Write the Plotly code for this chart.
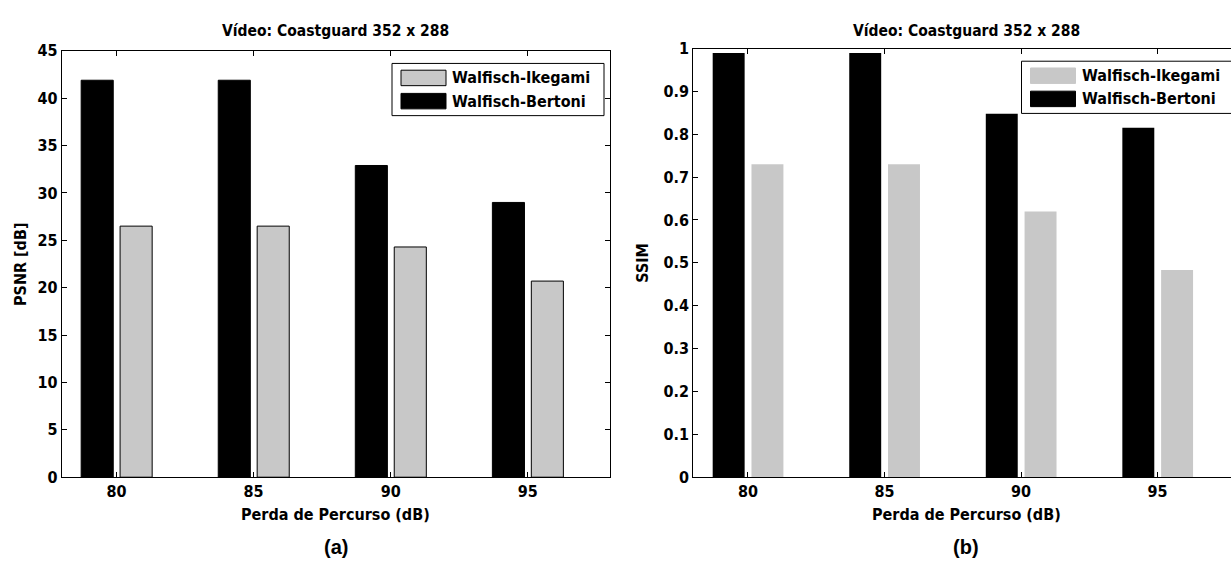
import plotly.graph_objects as go

# ---------------- data ----------------
perda = [80, 85, 90, 95]
psnr_ikegami = [26.5, 26.5, 24.3, 20.7]
psnr_bertoni = [41.9, 41.9, 32.9, 29.0]
ssim_ikegami = [0.73, 0.73, 0.62, 0.483]
ssim_bertoni = [0.99, 0.99, 0.848, 0.815]
names = ["Walfisch-Ikegami", "Walfisch-Bertoni"]
title_txt = "Vídeo: Coastguard 352 x 288"
xlabel = "Perda de Percurso (dB)"
psnr_ticks = list(range(0, 50, 5))
ssim_ticks = [0, 0.1, 0.2, 0.3, 0.4, 0.5, 0.6, 0.7, 0.8, 0.9, 1]
ssim_ticktext = ["0", "0.1", "0.2", "0.3", "0.4", "0.5", "0.6", "0.7", "0.8", "0.9", "1"]

W, H = 1231, 571
GRAY = "#c8c8c8"
NARROW = "Liberation Sans Narrow, DejaVu Sans Condensed, Arial Narrow, sans-serif"
FS = 16

def px(x):
    return x / W

def py(y):
    return 1 - y / H

# axes geometry (pixels)
L = dict(x0=61.7, x1=610.0, top=43.3, bot=484.3)
R = dict(x0=693.3, x1=1231.0, top=41.0, bot=484.0, full_x1=1239.5)

BW = 1.17
OFF_B = -1.29
OFF_I = 0.13

fig = go.Figure()
fig.add_trace(go.Bar(x=perda, y=psnr_bertoni, width=BW, offset=OFF_B,
                     marker=dict(color="black", line=dict(color="black", width=1)),
                     xaxis="x", yaxis="y", name=names[1], showlegend=False))
fig.add_trace(go.Bar(x=perda, y=psnr_ikegami, width=BW, offset=OFF_I,
                     marker=dict(color=GRAY, line=dict(color="black", width=1)),
                     xaxis="x", yaxis="y", name=names[0], showlegend=False))
fig.add_trace(go.Bar(x=perda, y=ssim_bertoni, width=BW, offset=OFF_B,
                     marker=dict(color="black", line=dict(color="black", width=0)),
                     xaxis="x2", yaxis="y2", name=names[1], showlegend=False))
fig.add_trace(go.Bar(x=perda, y=ssim_ikegami, width=BW, offset=OFF_I,
                     marker=dict(color=GRAY, line=dict(color=GRAY, width=0)),
                     xaxis="x2", yaxis="y2", name=names[0], showlegend=False))

tickfont = dict(family=NARROW, size=FS, color="black", weight="bold")
axcommon = dict(showgrid=False, zeroline=False, showline=True, linecolor="black",
                linewidth=1, ticks="inside", ticklen=5, tickcolor="black",
                tickfont=tickfont)

right_end = 78 + 20 * (R["x1"] - R["x0"]) / (R["full_x1"] - R["x0"])

fig.update_layout(
    width=W, height=H, margin=dict(l=0, r=0, t=0, b=0),
    paper_bgcolor="white", plot_bgcolor="white", barmode="overlay",
    showlegend=False,
    xaxis=dict(domain=[px(L["x0"]), px(L["x1"])], range=[78, 98], anchor="y",
               tickvals=perda, mirror="ticks", **axcommon),
    yaxis=dict(domain=[py(L["bot"]), py(L["top"])], range=[0, 45], anchor="x",
               tickvals=psnr_ticks, mirror="ticks", **axcommon),
    xaxis2=dict(domain=[px(R["x0"]), 1.0], range=[78, right_end], anchor="y2",
                tickvals=perda, mirror="ticks", **axcommon),
    yaxis2=dict(domain=[py(R["bot"]), py(R["top"])], range=[0, 1], anchor="x2",
                tickvals=ssim_ticks, ticktext=ssim_ticktext, mirror=False, **axcommon),
)

ann = []
txtfont = dict(family=NARROW, size=FS, color="black", weight="bold")
for (cx, top, bot, ylab, ylx, tag) in [
    ((L["x0"] + L["x1"]) / 2, L["top"], L["bot"], "PSNR [dB]", 20, "(a)"),
    ((R["x0"] + R["full_x1"]) / 2, R["top"], R["bot"], "SSIM", 643, "(b)"),
]:
    ann.append(dict(x=px(cx), y=py(23), xref="paper", yref="paper", text=title_txt,
                    showarrow=False, font=dict(txtfont, size=15.5), xanchor="center",
                    yanchor="middle"))
    ann.append(dict(x=px(cx), y=py(523), xref="paper", yref="paper", text=xlabel,
                    showarrow=False, font=txtfont, xanchor="center", yanchor="middle"))
    ann.append(dict(x=px(ylx), y=py((top + bot) / 2), xref="paper", yref="paper", text=ylab,
                    showarrow=False, font=txtfont, textangle=-90,
                    xanchor="center", yanchor="middle"))
    ann.append(dict(x=px(cx), y=py(557), xref="paper", yref="paper", text=tag,
                    showarrow=False,
                    font=dict(family="Liberation Sans, Arial, sans-serif", size=20,
                              color="black", weight="bold"),
                    xanchor="center", yanchor="middle"))

# custom legends (MATLAB style, large swatches)
shapes = []
for (ax_x1, ax_top, gray_border) in [(L["x1"], L["top"], True), (R["full_x1"], R["top"], False)]:
    bx1 = ax_x1 - 6
    bx0 = bx1 - 212
    by0 = ax_top + 13
    by1 = by0 + 54
    shapes.append(dict(type="rect", xref="paper", yref="paper",
                       x0=px(bx0), x1=px(bx1), y0=py(by1), y1=py(by0),
                       line=dict(color="black", width=1), fillcolor="white", layer="above"))
    rows = [(by0 + 15, names[0], GRAY), (by0 + 39, names[1], "black")]
    for (cy, nm, col) in rows:
        lc = "black" if (col == "black" or gray_border) else col
        shapes.append(dict(type="rect", xref="paper", yref="paper",
                           x0=px(bx0 + 9), x1=px(bx0 + 54), y0=py(cy + 8), y1=py(cy - 8),
                           line=dict(color=lc, width=1), fillcolor=col, layer="above"))
        ann.append(dict(x=px(bx0 + 58), y=py(cy), xref="paper", yref="paper", text=nm,
                        showarrow=False, font=txtfont, xanchor="left", yanchor="middle"))

fig.update_layout(annotations=ann, shapes=shapes)
fig.write_html("out.html", config={"displayModeBar": False},
               post_script="document.body.style.margin='0';document.body.style.overflow='hidden';")
